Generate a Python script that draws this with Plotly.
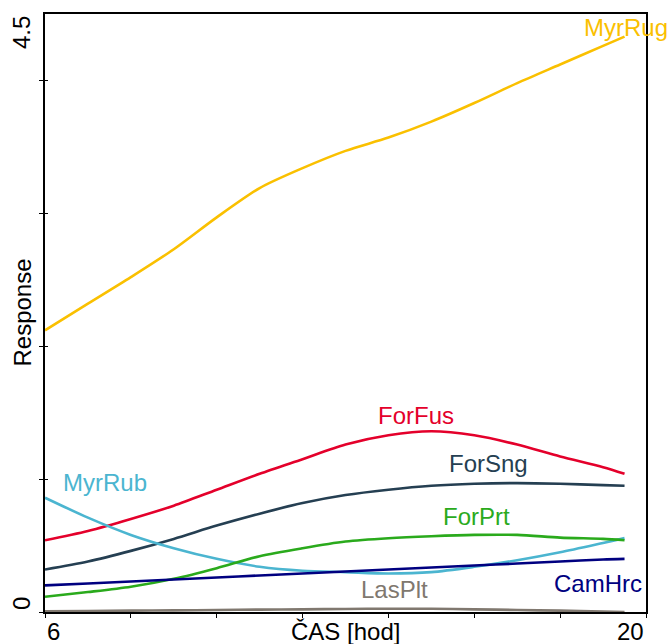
import plotly.graph_objects as go

# Sampling times (hours) along the fitted response curves
hours = [6, 7, 8, 9, 10, 11, 12, 13, 14, 15, 16, 17, 18, 19, 19.5]

myr_rug = [2.12, 2.32, 2.52, 2.73, 2.97, 3.19, 3.34, 3.47, 3.57, 3.69, 3.83, 3.98, 4.12, 4.26, 4.33]
for_fus = [0.54, 0.61, 0.70, 0.80, 0.92, 1.04, 1.15, 1.26, 1.33, 1.36, 1.33, 1.26, 1.17, 1.09, 1.04]
for_sng = [0.32, 0.38, 0.46, 0.55, 0.65, 0.74, 0.82, 0.88, 0.92, 0.95, 0.965, 0.97, 0.965, 0.955, 0.95]
myr_rub = [0.86, 0.71, 0.58, 0.48, 0.40, 0.34, 0.31, 0.30, 0.29, 0.30, 0.34, 0.39, 0.45, 0.52, 0.556]
for_prt = [0.115, 0.15, 0.19, 0.25, 0.33, 0.42, 0.48, 0.53, 0.555, 0.57, 0.58, 0.58, 0.56, 0.55, 0.54]
cam_hrc = [0.20, 0.215, 0.23, 0.245, 0.26, 0.275, 0.29, 0.305, 0.32, 0.335, 0.35, 0.365, 0.38, 0.395, 0.40]
las_plt = [0.005, 0.007, 0.01, 0.012, 0.015, 0.018, 0.02, 0.023, 0.025, 0.024, 0.02, 0.015, 0.01, 0.004, 0.0]

species = [
    ("MyrRug", myr_rug, "#FAC000", 19.53, 4.40),
    ("ForFus", for_fus, "#E4002B", 14.65, 1.475),
    ("ForSng", for_sng, "#253F52", 16.32, 1.114),
    ("MyrRub", myr_rub, "#4BB5D0", 7.39, 0.978),
    ("ForPrt", for_prt, "#2AAA1C", 16.05, 0.715),
    ("CamHrc", cam_hrc, "#000080", 18.89, 0.211),
    ("LasPlt", las_plt, "#80786F", 14.13, 0.169),
]

FONT = "Arial, Liberation Sans, sans-serif"

fig = go.Figure()
annotations = []
for name, vals, color, lx, ly in species:
    fig.add_trace(go.Scatter(
        x=hours, y=vals, mode="lines", name=name,
        line=dict(color=color, width=2.6, shape="spline", smoothing=0.8),
        cliponaxis=False, showlegend=False, hoverinfo="skip",
    ))
    annotations.append(dict(
        x=lx, y=ly, xref="x", yref="y", text=name, showarrow=False,
        font=dict(family=FONT, size=24, color=color),
        xanchor="center", yanchor="middle",
    ))

# Tick labels kept inside the axis span, as in CANOCO-style response plots
annotations += [
    dict(x=6, y=0, xref="x", yref="paper", yshift=-4, text="6", showarrow=False,
         xanchor="left", yanchor="top", font=dict(family=FONT, size=24, color="black")),
    dict(x=20, y=0, xref="x", yref="paper", yshift=-4, text="20", showarrow=False,
         xanchor="right", yanchor="top", font=dict(family=FONT, size=24, color="black")),
    dict(x=13, y=0, xref="x", yref="paper", yshift=-4, text="ČAS [hod]", showarrow=False,
         xanchor="center", yanchor="top", font=dict(family=FONT, size=24, color="black")),
    dict(x=0, y=4.5, xref="paper", yref="y", xshift=-8, text="4.5", showarrow=False,
         textangle=-90, xanchor="right", yanchor="top",
         font=dict(family=FONT, size=24, color="black")),
    dict(x=0, y=0, xref="paper", yref="y", xshift=-8, text="0", showarrow=False,
         textangle=-90, xanchor="right", yanchor="bottom",
         font=dict(family=FONT, size=24, color="black")),
    dict(x=0, y=2.25, xref="paper", yref="y", xshift=-8, text="Response", showarrow=False,
         textangle=-90, xanchor="right", yanchor="middle",
         font=dict(family=FONT, size=24, color="black")),
]

fig.update_layout(
    width=669, height=644,
    margin=dict(l=45, r=23, t=14, b=32),
    paper_bgcolor="white", plot_bgcolor="white",
    annotations=annotations,
    xaxis=dict(
        range=[6, 20], tickvals=[6, 8, 10, 12, 14, 16, 18, 20], showticklabels=False,
        ticks="outside", ticklen=4, tickwidth=1.2, tickcolor="black",
        showline=True, linecolor="black", linewidth=1.5, mirror=True,
        showgrid=False, zeroline=False, layer="below traces",
    ),
    yaxis=dict(
        range=[0, 4.5], tickvals=[0, 1, 2, 3, 4], showticklabels=False,
        ticks="outside", ticklen=4, tickwidth=1.2, tickcolor="black",
        showline=True, linecolor="black", linewidth=1.5, mirror=True,
        showgrid=False, zeroline=False,
    ),
    # overlaid axis supplies the inner half of the crossing y ticks
    yaxis2=dict(
        range=[0, 4.5], tickvals=[0, 1, 2, 3, 4], showticklabels=False,
        ticks="inside", ticklen=3, tickwidth=1.2, tickcolor="black",
        overlaying="y", side="left", showline=False, showgrid=False, zeroline=False,
    ),
)

# invisible trace to activate the overlaid axis
fig.add_trace(go.Scatter(x=[6], y=[0], yaxis="y2", mode="markers",
                         marker=dict(opacity=0), showlegend=False, hoverinfo="skip"))

fig.write_html("out.html")
